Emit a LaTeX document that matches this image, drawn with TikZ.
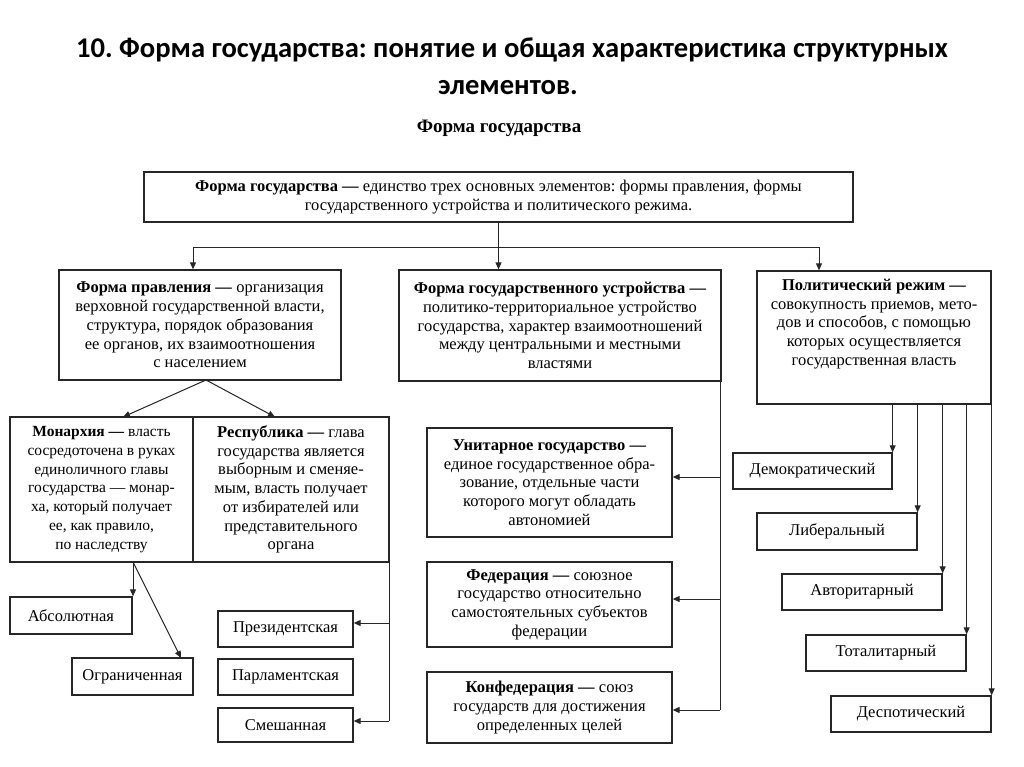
\documentclass[tikz,border=0pt]{standalone}
\usepackage{fontspec}
\setmainfont{Liberation Serif}
\newfontfamily\titlefont{Carlito}
\usetikzlibrary{calc}
\usetikzlibrary{arrows.meta}
\frenchspacing

\begin{document}
\begin{tikzpicture}[x=1pt,y=-1pt,
  blok/.style={draw=black!85,line width=1.3pt,inner sep=1pt,align=center,
    font=\fontsize{16.5}{18.7}\selectfont},
  strelka/.style={draw=black!85,line width=1pt,-{Triangle[length=7pt,width=6pt]}},
  linija/.style={draw=black!85,line width=1pt}]

\fill[white] (0,0) rectangle (1024,767);
\useasboundingbox (0,0) rectangle (1024,767);

% headings
\node (zag1) at (512,50) {\titlefont\bfseries\fontsize{28.6}{32}\selectfont 10. Форма государства: понятие и общая характеристика структурных};
\node (zag2) at (508,88) {\titlefont\bfseries\fontsize{28.6}{32}\selectfont элементов.};
\node (podzag) at (499,128) {\bfseries\fontsize{19}{22}\selectfont Форма государства};

% top level
\node[blok,minimum width=709,minimum height=50] (verh) at (498.5,197)
  {\textbf{Форма государства —} единство трех основных элементов: формы правления, формы\\ государственного устройства и политического режима.};

\node[blok,minimum width=282,minimum height=110] (pravl) at (200,325)
  {\textbf{Форма правления —} организация\\верховной государственной власти,\\структура, порядок образования\\ее органов, их взаимоотношения\\с населением};
\node[blok,minimum width=322,minimum height=111] (ustr) at (560,325.5)
  {\textbf{Форма государственного устройства —}\\политико-территориальное устройство\\государства, характер взаимоотношений\\между центральными и местными\\властями};
\node[blok,minimum width=234,minimum height=133] (rezhim) at (874,337.5) {};
\node[blok,draw=none] (rezhimtxt) at (874,324)
  {\textbf{Политический режим —}\\совокупность приемов, мето-\\дов и способов, с помощью\\которых осуществляется\\государственная власть};

% form of government
\node[blok,minimum width=183,minimum height=145,font=\fontsize{15.5}{18.7}\selectfont] (monarh) at (101.5,489.5)
  {\textbf{Монархия —} власть\\сосредоточена в руках\\единоличного главы\\государства — монар-\\ха, который получает\\ее, как правило,\\по наследству};
\node[blok,minimum width=196,minimum height=145] (respub) at (291,489.5)
  {\textbf{Республика —} глава\\государства является\\выборным и сменяе-\\мым, власть получает\\от избирателей или\\представительного\\органа};
\node[blok,minimum width=122,minimum height=37] (absol) at (71,615.5) {Абсолютная};
\node[blok,minimum width=121,minimum height=37] (ogran) at (132.5,676.5) {Ограниченная};
\node[blok,minimum width=135,minimum height=36] (prez) at (285.5,629) {Президентская};
\node[blok,minimum width=135,minimum height=36] (parl) at (285.5,677) {Парламентская};
\node[blok,minimum width=135,minimum height=34] (smesh) at (285.5,725) {Смешанная};

% form of state structure
\node[blok,minimum width=245,minimum height=109] (unit) at (549.5,482.5)
  {\textbf{Унитарное государство —}\\единое государственное обра-\\зование, отдельные части\\которого могут обладать\\автономией};
\node[blok,minimum width=245,minimum height=85] (feder) at (549.5,604.5)
  {\textbf{Федерация —} союзное\\государство относительно\\самостоятельных субъектов\\федерации};
\node[blok,minimum width=245,minimum height=71] (konf) at (549.5,707.5)
  {\textbf{Конфедерация —} союз\\государств для достижения\\определенных целей};

% political regime
\node[blok,minimum width=159,minimum height=36] (demo) at (812.5,471) {Демократический};
\node[blok,minimum width=160,minimum height=37] (liber) at (837,531.5) {Либеральный};
\node[blok,minimum width=160,minimum height=36] (avtor) at (862,592) {Авторитарный};
\node[blok,minimum width=160,minimum height=36] (total) at (886,653) {Тоталитарный};
\node[blok,minimum width=160,minimum height=36] (despot) at (911,714) {Деспотический};

% connectors
\coordinate (hl) at (193,247);
\coordinate (hr) at (819,247);
\draw[linija] (hl) -- (hr);
\draw[strelka] (verh.south) -- (verh.south |- ustr.north);
\draw[strelka] (hl) -- (hl |- pravl.north);
\draw[strelka] (hr) -- (hr |- rezhim.north);

\coordinate (pr) at (206,380);
\draw[strelka] (pr) -- (123,417);
\draw[strelka] (pr) -- (275,417);

\coordinate (mn) at (133,562);
\draw[strelka] (mn) -- (mn |- absol.north);
\draw[strelka] (mn) -- (181,658);

\coordinate (rs) at (389,562);
\coordinate (rs1) at (389,623);
\coordinate (rs2) at (389,721);
\draw[linija] (rs) -- (rs2);
\draw[strelka] (rs1) -- (rs1 -| prez.east);
\draw[strelka] (rs2) -- (rs2 -| smesh.east);

\coordinate (us) at (720,381);
\coordinate (us1) at (720,477);
\coordinate (us2) at (720,599);
\coordinate (us3) at (720,710);
\draw[linija] (us) -- (us3);
\draw[strelka] (us1) -- (us1 -| unit.east);
\draw[strelka] (us2) -- (us2 -| feder.east);
\draw[strelka] (us3) -- (us3 -| konf.east);

\foreach \n in {demo,liber,avtor,total,despot}
  \draw[strelka] (\n.north east |- rezhim.south) -- (\n.north east);

\end{tikzpicture}
\end{document}
